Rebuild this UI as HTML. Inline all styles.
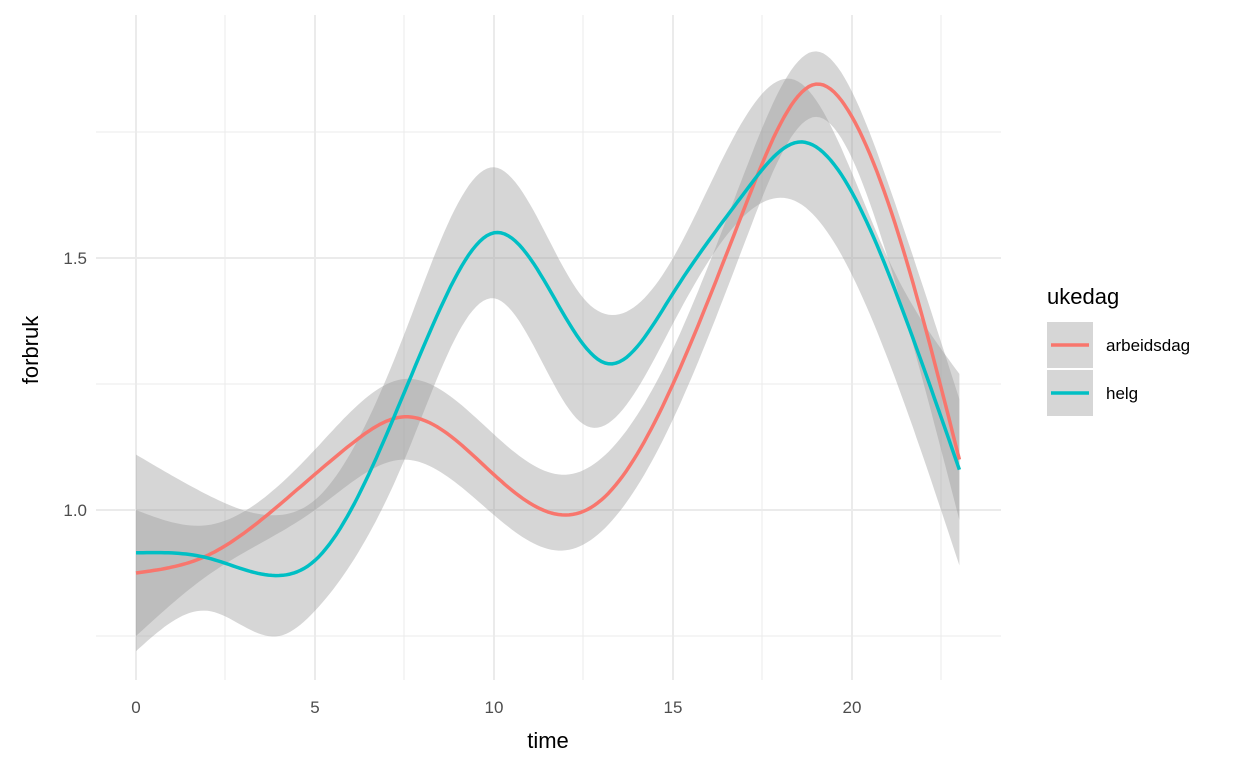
<!DOCTYPE html>
<html><head><meta charset="utf-8"><style>
body{margin:0;background:#fff;}
svg{font-family:"Liberation Sans",sans-serif;}
</style></head><body>
<svg id="s" width="1248" height="768" viewBox="0 0 1248 768">
<rect width="1248" height="768" fill="#fff"/>
<g stroke="#ebebeb" stroke-width="1">
<line x1="96" x2="1001" y1="132" y2="132"/><line x1="96" x2="1001" y1="384" y2="384"/><line x1="96" x2="1001" y1="636" y2="636"/>
<line x1="225" x2="225" y1="15" y2="680"/><line x1="404" x2="404" y1="15" y2="680"/><line x1="583" x2="583" y1="15" y2="680"/><line x1="762" x2="762" y1="15" y2="680"/><line x1="941" x2="941" y1="15" y2="680"/>
</g>
<g stroke="#ebebeb" stroke-width="2">
<line x1="96" x2="1001" y1="258" y2="258"/><line x1="96" x2="1001" y1="510" y2="510"/>
<line x1="136" x2="136" y1="15" y2="680"/><line x1="315" x2="315" y1="15" y2="680"/><line x1="494" x2="494" y1="15" y2="680"/><line x1="673" x2="673" y1="15" y2="680"/><line x1="852" x2="852" y1="15" y2="680"/>
</g>
<g id="plot"></g>
<g fill="#4d4d4d" font-size="17" text-anchor="middle">
<text x="136" y="713">0</text><text x="315" y="713">5</text><text x="494" y="713">10</text><text x="673" y="713">15</text><text x="852" y="713">20</text>
</g>
<g fill="#4d4d4d" font-size="17" text-anchor="end">
<text x="87" y="264">1.5</text><text x="87" y="516">1.0</text>
</g>
<text x="548" y="748" font-size="22" text-anchor="middle" fill="#000">time</text>
<text transform="translate(38,350) rotate(-90)" font-size="22" text-anchor="middle" fill="#000">forbruk</text>
<text x="1047" y="304" font-size="22" fill="#000">ukedag</text>
<rect x="1047" y="322" width="46" height="46" fill="#d6d6d6"/>
<rect x="1047" y="370" width="46" height="46" fill="#d6d6d6"/>
<line x1="1051" x2="1089" y1="345" y2="345" stroke="#f8766d" stroke-width="3.5"/>
<line x1="1051" x2="1089" y1="393" y2="393" stroke="#00bfc4" stroke-width="3.5"/>
<text x="1106" y="351" font-size="17" fill="#000">arbeidsdag</text>
<text x="1106" y="399" font-size="17" fill="#000">helg</text>
</svg>
<script>
function X(t){return 136+t*35.8}function Y(v){return 510-(v-1)*504}
function spline(xs,ys){var n=xs.length,h=[],a=[],l=[1],mu=[0],z=[0],c=new Array(n).fill(0),b=[],d=[];
for(var i=0;i<n-1;i++)h[i]=xs[i+1]-xs[i];
for(i=1;i<n-1;i++)a[i]=3/h[i]*(ys[i+1]-ys[i])-3/h[i-1]*(ys[i]-ys[i-1]);
for(i=1;i<n-1;i++){l[i]=2*(xs[i+1]-xs[i-1])-h[i-1]*mu[i-1];mu[i]=h[i]/l[i];z[i]=(a[i]-h[i-1]*z[i-1])/l[i];}
for(i=n-2;i>=0;i--){c[i]=(i>0?z[i]:0)-mu[i]*c[i+1];b[i]=(ys[i+1]-ys[i])/h[i]-h[i]*(c[i+1]+2*c[i])/3;d[i]=(c[i+1]-c[i])/(3*h[i]);}
return function(x){var k=0;while(k<n-2&&x>xs[k+1])k++;var dx=x-xs[k];return ys[k]+b[k]*dx+c[k]*dx*dx+d[k]*dx*dx*dx;};}
function curve(pts){var f=spline(pts.map(function(p){return p[0]}),pts.map(function(p){return p[1]}));var out=[];for(var t=0;t<=23.0001;t+=0.1)out.push([X(t),Y(f(Math.min(t,23)))]);return out;}
function path(arr){return "M"+arr.map(function(p){return p[0].toFixed(1)+","+p[1].toFixed(1)}).join("L");}
var redM=[[0,.875],[2,.91],[4,1.01],[6,1.13],[7.5,1.185],[10,1.07],[12,.99],[13,1.02],[15,1.25],[17,1.6],[19,1.845],[20,1.78],[21.5,1.5],[23,1.1]];
var helM=[[0,.915],[2,.905],[4,.87],[5,.9],[7,1.15],[8.5,1.4],[10,1.55],[11,1.5],[13.2,1.29],[15,1.43],[17,1.63],[18.5,1.73],[20,1.63],[21.5,1.38],[23,1.08]];
var redB=[[0,.75,1.0],[2,.87,.97],[5,1.0,1.12],[7.5,1.1,1.26],[10,.99,1.15],[12,.92,1.07],[15,1.18,1.32],[17,1.53,1.67],[19,1.78,1.91],[21,1.5,1.65],[23,.98,1.22]];
var helB=[[0,.72,1.11],[2,.8,1.03],[4,.75,.99],[5,.8,1.02],[7.5,1.1,1.35],[10,1.42,1.68],[12.5,1.17,1.42],[15,1.37,1.5],[18.5,1.61,1.85],[21,1.3,1.5],[23,.89,1.27]];
function band(b){var lo=curve(b.map(function(q){return[q[0],q[1]]})),hi=curve(b.map(function(q){return[q[0],q[2]]})).reverse();
return path(hi.concat(lo))+"Z";}
var g=document.getElementById("plot"),ns="http://www.w3.org/2000/svg";
function add(d,f,s){var p=document.createElementNS(ns,"path");p.setAttribute("d",d);p.setAttribute("fill",f);if(s){p.setAttribute("stroke",s);p.setAttribute("stroke-width","3.5");p.setAttribute("stroke-linejoin","round");}else{p.setAttribute("fill-opacity","0.4")}g.appendChild(p);}
add(band(redB),"#999");add(band(helB),"#999");
add(path(curve(redM)),"none","#f8766d");add(path(curve(helM)),"none","#00bfc4");
</script>
</body></html>
